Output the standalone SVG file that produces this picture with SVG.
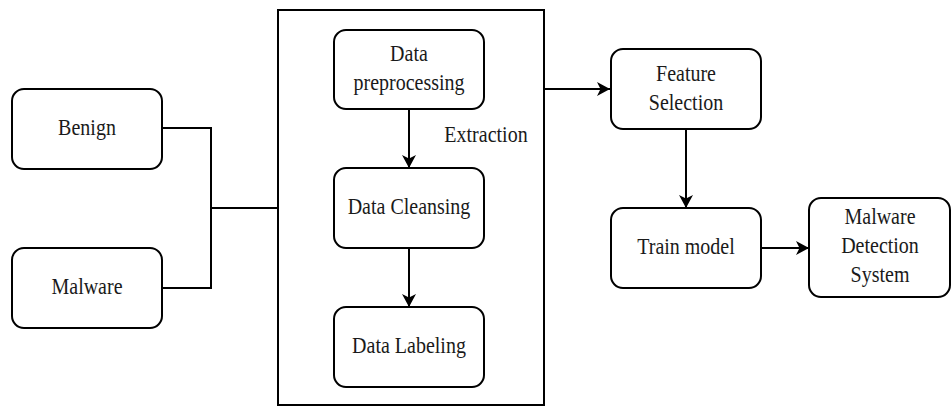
<svg xmlns="http://www.w3.org/2000/svg" width="952" height="408" viewBox="0 0 952 408">
  <style>
    .box { fill: #ffffff; stroke: #000000; stroke-width: 2; }
    .lbl { font-family: "Liberation Serif", "DejaVu Serif", serif; font-size: 20px; fill: #1a1a1a; text-anchor: middle; }
    .edge { fill: none; stroke: #000000; stroke-width: 2; }
    .arr { marker-end: url(#ah); }
  </style>
  <defs>
    <marker id="ah" markerUnits="userSpaceOnUse" markerWidth="16" markerHeight="16" viewBox="0 0 16 16" refX="14" refY="8" orient="auto">
      <path d="M1,1 L14,8 L1,15 L4.5,8 Z" fill="#000000"/>
    </marker>
  </defs>

  <rect id="background" x="0" y="0" width="952" height="408" fill="#ffffff"/>

  <g id="extraction-group">
    <rect x="278" y="10" width="266" height="395" fill="#ffffff" stroke="#000000" stroke-width="2"/>
    <text class="lbl" font-family="Liberation Serif, serif" transform="translate(486,142) scale(1,1.15)">Extraction</text>
  </g>

  <g id="connectors">
    <path class="edge" d="M162,128 H211 V288 H162"/>
    <path class="edge" d="M211,208 H278"/>
    <path class="edge arr" d="M544,89 H610"/>
    <path class="edge arr" d="M409,109 V168"/>
    <path class="edge arr" d="M409,248 V307"/>
    <path class="edge arr" d="M686,129 V208"/>
    <path class="edge arr" d="M761,248 H809"/>
  </g>

  <g id="benign">
    <rect class="box" x="12" y="89" width="150" height="80" rx="12" ry="12"/>
    <text class="lbl" font-family="Liberation Serif, serif" transform="translate(87,135) scale(1,1.15)">Benign</text>
  </g>

  <g id="malware">
    <rect class="box" x="12" y="248" width="150" height="80" rx="12" ry="12"/>
    <text class="lbl" font-family="Liberation Serif, serif" transform="translate(87,294) scale(1,1.15)">Malware</text>
  </g>

  <g id="data-preprocessing">
    <rect class="box" x="334" y="30" width="150" height="79" rx="12" ry="12"/>
    <text class="lbl" font-family="Liberation Serif, serif" transform="translate(409,61) scale(1,1.15)">Data</text>
    <text class="lbl" font-family="Liberation Serif, serif" transform="translate(409,90) scale(1,1.15)">preprocessing</text>
  </g>

  <g id="data-cleansing">
    <rect class="box" x="334" y="168" width="150" height="80" rx="12" ry="12"/>
    <text class="lbl" font-family="Liberation Serif, serif" transform="translate(409,214) scale(1,1.15)">Data Cleansing</text>
  </g>

  <g id="data-labeling">
    <rect class="box" x="334" y="307" width="150" height="80" rx="12" ry="12"/>
    <text class="lbl" font-family="Liberation Serif, serif" transform="translate(409,353) scale(1,1.15)">Data Labeling</text>
  </g>

  <g id="feature-selection">
    <rect class="box" x="611" y="49" width="150" height="80" rx="12" ry="12"/>
    <text class="lbl" font-family="Liberation Serif, serif" transform="translate(686,81) scale(1,1.15)">Feature</text>
    <text class="lbl" font-family="Liberation Serif, serif" transform="translate(686,110) scale(1,1.15)">Selection</text>
  </g>

  <g id="train-model">
    <rect class="box" x="611" y="208" width="150" height="80" rx="12" ry="12"/>
    <text class="lbl" font-family="Liberation Serif, serif" transform="translate(686,254) scale(1,1.15)">Train model</text>
  </g>

  <g id="malware-detection-system">
    <rect class="box" x="809" y="198" width="141" height="99" rx="12" ry="12"/>
    <text class="lbl" font-family="Liberation Serif, serif" transform="translate(880,224) scale(1,1.15)">Malware</text>
    <text class="lbl" font-family="Liberation Serif, serif" transform="translate(880,253) scale(1,1.15)">Detection</text>
    <text class="lbl" font-family="Liberation Serif, serif" transform="translate(880,282) scale(1,1.15)">System</text>
  </g>
</svg>
